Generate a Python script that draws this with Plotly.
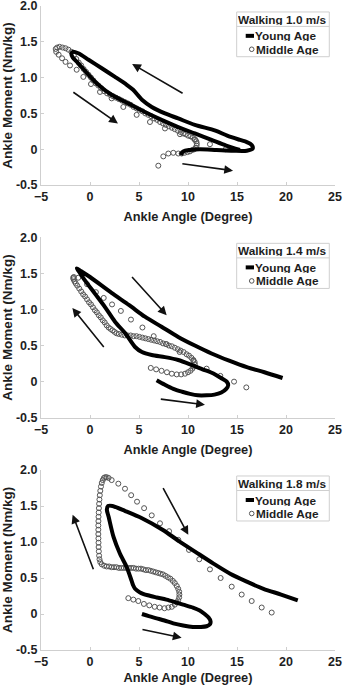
import plotly.graph_objects as go

# ---------------- data ----------------
SPEED_LABELS = ["Walking 1.0 m/s", "Walking 1.4 m/s", "Walking 1.8 m/s"]
SERIES_NAMES = ["Young Age", "Middle Age"]
X_TICKS = [-5, 0, 5, 10, 15, 20, 25]
Y_TICKS = [-0.5, 0, 0.5, 1.0, 1.5, 2.0]
Y_TICKTEXT = ["-0.5", "0", "0.5", "1.0", "1.5", "2.0"]

# Walking 1.0 m/s
young_x_10 = [9.25, 9.52, 10.2, 11.2, 12.9, 14.6, 16.0, 16.6, 16.5, 16.0,
              15.3, 14.0, 12.8, 10.7, 9.0, 7.65, 6.3, 5.3, 4.4, 3.75,
              2.55, 1.2, -0.15, -1.2, -1.75, -1.9, -1.75, -1.2, -0.15, 0.85,
              2.2, 3.9, 5.6, 7.3, 9.0, 10.7, 12.4, 13.9, 15.3]
young_y_10 = [-0.08, -0.03, -0.01, 0.0, -0.01, -0.02, -0.02, 0.01, 0.06, 0.10,
              0.13, 0.19, 0.26, 0.34, 0.43, 0.50, 0.59, 0.69, 0.83, 0.90,
              1.01, 1.13, 1.25, 1.34, 1.36, 1.33, 1.28, 1.20, 1.04, 0.90,
              0.76, 0.64, 0.52, 0.41, 0.31, 0.22, 0.13, 0.05, -0.01]
middle_x_10 = [6.97, 7.48, 7.99, 8.5, 9.01, 9.35, 9.65, 9.95, 10.2, 10.45,
               10.65, 10.8, 10.88, 10.9, 10.85, 10.7,
               10.5, 10.25, 10.0, 9.75, 9.5, 9.25, 8.95, 8.65, 8.35, 8.05,
               7.75, 7.45, 7.15, 6.85, 6.55, 6.25, 5.95, 5.65, 5.35, 5.05,
               4.75, 4.45, 4.15, 3.85, 3.55, 3.25, 2.95, 2.65, 2.35, 2.05,
               1.75, 1.45, 1.15, 0.85, 0.6, 0.35, 0.1, -0.15, -0.4, -0.65,
               -0.9, -1.15, -1.4, -1.65, -1.9, -2.2, -2.5, -2.8, -3.1, -3.35, -3.5,
               -3.45, -3.2, -2.85, -2.5, -2.04, -1.36, -0.68, 0.1, 1.02, 2.21,
               3.4, 4.76, 6.12, 7.65, 9.18, 10.7, 12.24, 13.85]
middle_y_10 = [-0.23, -0.10, -0.06, -0.05, -0.06, -0.06, -0.05, -0.04, -0.03, -0.01,
               0.0, 0.02, 0.05, 0.08, 0.11, 0.14,
               0.16, 0.18, 0.19, 0.21, 0.22, 0.24, 0.26, 0.28, 0.30, 0.32,
               0.34, 0.36, 0.38, 0.41, 0.43, 0.46, 0.48, 0.50, 0.53, 0.55,
               0.57, 0.59, 0.62, 0.64, 0.66, 0.68, 0.70, 0.72, 0.74, 0.76,
               0.78, 0.81, 0.85, 0.89, 0.92, 0.96, 1.00, 1.04, 1.08, 1.12,
               1.17, 1.21, 1.26, 1.31, 1.36, 1.39, 1.41, 1.42, 1.43, 1.42, 1.40,
               1.36, 1.32, 1.27, 1.22, 1.17, 1.11, 1.01, 0.91, 0.80, 0.71,
               0.59, 0.48, 0.38, 0.29, 0.21, 0.13, 0.07, 0.0]

# Walking 1.4 m/s
young_x_14 = [6.8, 7.6, 8.5, 9.4, 10.2, 11.0, 11.9, 12.7, 13.4, 13.9,
              14.1, 13.95, 13.5, 12.9, 12.3, 11.7, 10.4, 9.0, 7.65, 6.3,
              5.3, 4.6, 3.6, 2.55, 1.55, 0.5, -0.5, -1.1, -1.35, -0.9,
              0.0, 2.2, 4.0, 5.6, 7.3, 9.0, 10.7, 12.4, 14.2, 16.0,
              17.8, 19.65]
young_y_14 = [0.02, -0.04, -0.10, -0.14, -0.17, -0.19, -0.19, -0.18, -0.15, -0.10,
              -0.05, 0.0, 0.04, 0.09, 0.13, 0.16, 0.23, 0.30, 0.34, 0.37,
              0.41, 0.48, 0.67, 0.83, 1.03, 1.22, 1.40, 1.52, 1.57, 1.53,
              1.45, 1.23, 1.06, 0.90, 0.76, 0.62, 0.50, 0.39, 0.29, 0.20,
              0.13, 0.05]
middle_x_14 = [6.2, 6.75, 7.3, 7.85, 8.35, 8.85, 9.3, 9.7, 10.0, 10.25,
               10.45, 10.6, 10.7, 10.68, 10.55, 10.35,
               10.1, 9.85, 9.55, 9.25, 8.95, 8.65, 8.35, 8.05, 7.75, 7.45,
               7.15, 6.85, 6.55, 6.25, 5.95, 5.65, 5.35, 5.05, 4.75, 4.45,
               4.15, 3.85, 3.55, 3.25, 2.95, 2.7, 2.5, 2.3, 2.1, 1.9,
               1.7, 1.5, 1.3, 1.1, 0.9, 0.7, 0.5, 0.3, 0.1, -0.1,
               -0.3, -0.5, -0.7, -0.9, -1.1, -1.3, -1.45, -1.58, -1.68, -1.72, -1.65,
               -1.2, -0.3, 0.6, 1.4, 2.25, 3.15, 4.18, 5.35, 6.5, 7.8,
               9.15, 10.55, 11.9, 13.3, 14.7, 15.95]
middle_y_14 = [0.19, 0.17, 0.15, 0.13, 0.11, 0.10, 0.10, 0.11, 0.13, 0.15,
               0.18, 0.21, 0.24, 0.27, 0.30, 0.33,
               0.36, 0.38, 0.41, 0.43, 0.45, 0.47, 0.49, 0.50, 0.52, 0.53,
               0.55, 0.56, 0.57, 0.58, 0.59, 0.60, 0.61, 0.62, 0.63, 0.63,
               0.64, 0.64, 0.64, 0.65, 0.66, 0.67, 0.69, 0.71, 0.73, 0.75,
               0.78, 0.82, 0.85, 0.89, 0.92, 0.96, 0.99, 1.03, 1.07, 1.10,
               1.14, 1.18, 1.21, 1.25, 1.29, 1.33, 1.36, 1.39, 1.42, 1.44, 1.45,
               1.44, 1.35, 1.24, 1.16, 1.07, 0.98, 0.86, 0.75, 0.63, 0.52,
               0.41, 0.29, 0.18, 0.08, 0.0, -0.08]

# Walking 1.8 m/s
young_x_18 = [5.3, 6.0, 6.8, 7.6, 8.5, 9.5, 10.5, 11.3, 11.9, 12.25,
              12.3, 12.1, 11.7, 11.2, 10.5, 9.5, 8.8, 7.8, 6.8, 5.9,
              5.1, 4.6, 4.4, 4.25, 3.75, 3.05, 2.4, 1.9, 1.72, 1.85,
              2.3, 3.6, 5.3, 7.4, 9.0, 10.9, 12.6, 14.3, 16.0, 17.7,
              19.5, 21.2]
young_y_18 = [0.0, -0.03, -0.06, -0.09, -0.13, -0.16, -0.18, -0.18, -0.17, -0.14,
              -0.10, -0.05, 0.0, 0.05, 0.09, 0.13, 0.16, 0.20, 0.23, 0.26,
              0.30, 0.35, 0.40, 0.46, 0.65, 0.84, 1.07, 1.35, 1.45, 1.50,
              1.50, 1.43, 1.33, 1.17, 1.02, 0.85, 0.70, 0.56, 0.45, 0.35,
              0.27, 0.19]
middle_x_18 = [3.91, 4.42, 4.93, 5.5, 6.05, 6.6, 7.1, 7.6, 8.0, 8.35,
               8.65, 8.85, 9.0, 9.1, 9.12, 9.1, 9.0,
               8.85, 8.65, 8.45, 8.2, 7.95, 7.7, 7.45, 7.2, 6.95, 6.7,
               6.45, 6.2, 5.95, 5.7, 5.45, 5.2, 4.95, 4.7, 4.45, 4.2,
               3.95, 3.7, 3.45, 3.2, 2.95, 2.7, 2.45, 2.2, 1.95, 1.7,
               1.45, 1.2, 1.05, 0.97, 0.93, 0.9, 0.88, 0.87, 0.86, 0.85,
               0.85, 0.85, 0.86, 0.87, 0.89, 0.91, 0.93, 0.96, 1.0, 1.05,
               1.12, 1.2, 1.3, 1.42, 1.55, 1.7, 1.9,
               2.21, 2.89, 3.57, 4.2, 4.8, 5.52, 6.3, 7.14, 8.07, 9.01,
               10.1, 11.15, 12.24, 13.33, 14.46, 15.48, 16.5, 17.52, 18.54]
middle_y_18 = [0.22, 0.20, 0.18, 0.14, 0.12, 0.10, 0.09, 0.08, 0.09, 0.10,
               0.13, 0.16, 0.19, 0.23, 0.27, 0.31, 0.35,
               0.39, 0.43, 0.46, 0.49, 0.51, 0.53, 0.55, 0.56, 0.57, 0.58,
               0.59, 0.60, 0.61, 0.61, 0.62, 0.63, 0.63, 0.63, 0.64, 0.64,
               0.64, 0.64, 0.64, 0.64, 0.64, 0.65, 0.65, 0.65, 0.66, 0.66,
               0.67, 0.69, 0.72, 0.76, 0.81, 0.87, 0.93, 0.99, 1.05, 1.11,
               1.17, 1.23, 1.29, 1.35, 1.41, 1.47, 1.53, 1.59, 1.65, 1.71,
               1.77, 1.82, 1.86, 1.89, 1.90, 1.90, 1.89,
               1.86, 1.81, 1.74, 1.65, 1.56, 1.47, 1.37, 1.26, 1.15, 1.03,
               0.89, 0.76, 0.62, 0.50, 0.38, 0.27, 0.18, 0.09, 0.02]

# direction arrows per panel: (tail_x, tail_y, head_x, head_y)
ARROWS = [
    [(9.6, 0.77, 4.3, 1.19), (-1.85, 0.81, 2.85, 0.36), (9.27, -0.2, 14.6, -0.3)],
    [(4.15, 1.47, 7.82, 0.92), (1.53, 0.46, -1.8, 1.02), (7.07, -0.24, 11.73, -0.32)],
    [(7.38, 1.77, 10.03, 1.1), (0.4, 0.6, -1.77, 1.38), (5.2, -0.21, 9.35, -0.33)],
]

PANELS = [
    (young_x_10, young_y_10, middle_x_10, middle_y_10),
    (young_x_14, young_y_14, middle_x_14, middle_y_14),
    (young_x_18, young_y_18, middle_x_18, middle_y_18),
]

# ---------------- figure ----------------
FONT = "Liberation Sans, Arial, Helvetica, sans-serif"
TXT = "#1e1e1e"
AXC = "#cfcfcf"
Y_DOMAINS = [[0.722, 1.0], [0.3607, 0.6408], [0.0, 0.2795]]

fig = go.Figure()
shapes = []
annotations = []

for i, (yx, yy, mx, my) in enumerate(PANELS):
    k = "" if i == 0 else str(i + 1)
    xr, yr = "x" + k, "y" + k
    fig.add_trace(go.Scatter(
        x=mx, y=my, mode="markers", name=SERIES_NAMES[1], xaxis=xr, yaxis=yr,
        marker=dict(symbol="circle-open", size=5, color="#555555",
                    line=dict(width=1, color="#555555")),
        showlegend=False))
    fig.add_trace(go.Scatter(
        x=yx, y=yy, mode="lines", name=SERIES_NAMES[0], xaxis=xr, yaxis=yr,
        line=dict(color="black", width=4, shape="spline", smoothing=0.8),
        showlegend=False))

    axis_common = dict(showline=True, linecolor=AXC, linewidth=1, ticks="inside",
                       ticklen=3, tickcolor=AXC, showgrid=False, zeroline=False,
                       automargin=False, ticklabeloverflow="allow",
                       tickfont=dict(family=FONT, size=12.5, color=TXT, weight="bold"))
    fig.layout["xaxis" + k] = dict(
        axis_common, range=[-5, 25], tickvals=X_TICKS, domain=[0, 1], anchor=yr,
        title=dict(text="Ankle Angle (Degree)", standoff=9,
                   font=dict(family=FONT, size=12.8, color=TXT, weight="bold")))
    fig.layout["yaxis" + k] = dict(
        axis_common, range=[-0.5, 2.0], tickvals=Y_TICKS, ticktext=Y_TICKTEXT,
        domain=Y_DOMAINS[i], anchor=xr,
        title=dict(text="Ankle Moment (Nm/kg)", standoff=2,
                   font=dict(family=FONT, size=13.5, color=TXT, weight="bold")))

    # legend box (drawn in axis-domain coordinates)
    xd, yd = xr + " domain", yr + " domain"
    shapes.append(dict(type="rect", xref=xd, yref=yd, x0=0.6656, x1=0.9806,
                       y0=0.7167, y1=0.9667, line=dict(color=AXC, width=1),
                       fillcolor="white", layer="above"))
    shapes.append(dict(type="line", xref=xd, yref=yd, x0=0.6656, x1=0.9806,
                       y0=0.886, y1=0.886, line=dict(color=AXC, width=1), layer="above"))
    shapes.append(dict(type="line", xref=xd, yref=yd, x0=0.6963, x1=0.7245,
                       y0=0.8333, y1=0.8333, line=dict(color="black", width=4), layer="above"))
    shapes.append(dict(type="circle", xref=xd, yref=yd, x0=0.7167 - 0.0078, x1=0.7167 + 0.0078,
                       y0=0.7583 - 0.0128, y1=0.7583 + 0.0128,
                       line=dict(color="#555555", width=1), layer="above"))
    lf = dict(family=FONT, size=11.8, color=TXT, weight="bold")
    common_ann = dict(xref=xd, yref=yd, showarrow=False, yanchor="middle", font=lf,
                      height=11, borderpad=0)
    annotations.append(dict(common_ann, x=0.8231, y=0.925, text=SPEED_LABELS[i],
                            xanchor="center"))
    annotations.append(dict(common_ann, x=0.7255, y=0.8333, text=SERIES_NAMES[0],
                            xanchor="left"))
    annotations.append(dict(common_ann, x=0.7295, y=0.7583, text=SERIES_NAMES[1],
                            xanchor="left"))

    for (tx, ty, hx, hy) in ARROWS[i]:
        annotations.append(dict(xref=xr, yref=yr, axref=xr, ayref=yr, x=hx, y=hy,
                                ax=tx, ay=ty, text="", showarrow=True, arrowhead=2,
                                arrowsize=1.1, arrowwidth=1.6, arrowcolor="#111111",
                                standoff=0, startstandoff=0))

fig.update_layout(
    width=344, height=685,
    margin=dict(l=41, r=9, t=6, b=35),
    paper_bgcolor="white", plot_bgcolor="white",
    font=dict(family=FONT, color=TXT),
    shapes=shapes, annotations=annotations, showlegend=False,
)

fig.write_html("out.html",
               config={"displayModeBar": False},
               post_script="document.body.style.margin='0';"
                           "document.body.style.overflow='hidden';")
